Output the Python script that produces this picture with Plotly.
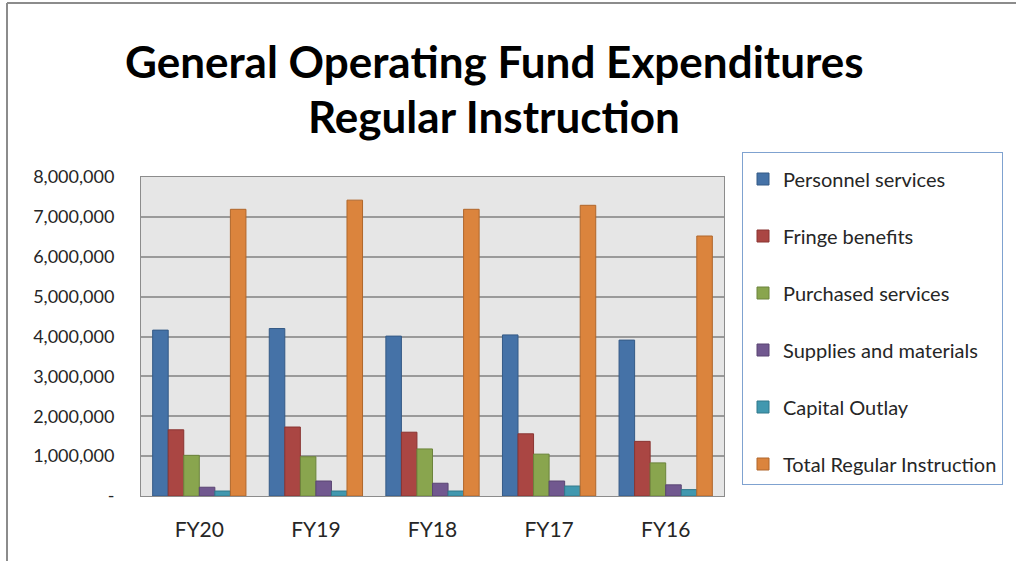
import plotly.graph_objects as go

# fiscal years, left to right
years = ["FY20", "FY19", "FY18", "FY17", "FY16"]

personnel = [4160000, 4200000, 4010000, 4040000, 3910000]
fringe = [1660000, 1730000, 1600000, 1560000, 1370000]
purchased = [1020000, 985000, 1180000, 1050000, 830000]
supplies = [220000, 376000, 320000, 376000, 280000]
capital = [125000, 125000, 125000, 250000, 160000]
total = [7190000, 7420000, 7190000, 7290000, 6520000]

y_tickvals = [0, 1000000, 2000000, 3000000, 4000000, 5000000, 6000000, 7000000, 8000000]
y_ticktext = ["-", "1,000,000", "2,000,000", "3,000,000", "4,000,000",
              "5,000,000", "6,000,000", "7,000,000", "8,000,000"]

series = [
    ("Personnel services", personnel, "#4572A7", "#355a86"),
    ("Fringe benefits", fringe, "#AA4643", "#8a3532"),
    ("Purchased services", purchased, "#89A54E", "#6c843c"),
    ("Supplies and materials", supplies, "#71588F", "#5a4573"),
    ("Capital Outlay", capital, "#4198AF", "#31788b"),
    ("Total Regular Instruction", total, "#DB843D", "#b0672c"),
]

W, H = 1016, 561
L, R, T, B = 141, 292, 177, 65
pw = W - L - R
ph = H - T - B


def px_x(x):
    """Container pixel x -> plot-area paper fraction."""
    return (x - L) / pw


def px_y(y):
    """Container pixel y (from top) -> plot-area paper fraction."""
    return 1 - (y - T) / ph


fig = go.Figure()
for name, vals, color, edge in series:
    fig.add_trace(go.Bar(
        x=years,
        y=vals,
        name=name,
        legendgroup=name,
        marker=dict(color=color, line=dict(color=edge, width=1)),
        hovertemplate="<b>%{x}</b><br>" + name + ": %{y:,.0f}<extra></extra>",
    ))

fig.update_layout(
    width=W,
    height=H,
    barmode="group",
    bargap=0.2,
    bargroupgap=0,
    paper_bgcolor="white",
    plot_bgcolor="#e6e6e6",
    margin=dict(l=L, r=R, t=T, b=B),
    font=dict(family="Lato, 'Open Sans', sans-serif", size=16, color="#262626"),
    showlegend=True,
    legend=dict(
        xref="container",
        yref="container",
        x=742 / W,
        y=1 - 152 / H,
        xanchor="left",
        yanchor="top",
        bordercolor="#7fa2d0",
        borderwidth=1,
        bgcolor="white",
        font=dict(size=20, color="#262626"),
        title=dict(text=" ", font=dict(size=5)),
        tracegroupgap=28,
        itemwidth=30,
        maxheight=420,
    ),
)

fig.add_annotation(text="<b>General Operating Fund Expenditures</b>", xref="paper", yref="paper",
                   x=px_x(494), y=px_y(61), xanchor="center", yanchor="middle", showarrow=False,
                   font=dict(size=44, color="black"))
fig.add_annotation(text="<b>Regular Instruction</b>", xref="paper", yref="paper",
                   x=px_x(494), y=px_y(116), xanchor="center", yanchor="middle", showarrow=False,
                   font=dict(size=44, color="black"))

# outer chart frame (only top and left edges visible)
fig.add_shape(type="line", xref="paper", yref="paper",
              x0=px_x(7), x1=px_x(7), y0=px_y(H), y1=px_y(3),
              line=dict(color="#8c8c8c", width=2))
fig.add_shape(type="line", xref="paper", yref="paper",
              x0=px_x(7), x1=px_x(W), y0=px_y(3), y1=px_y(3),
              line=dict(color="#8c8c8c", width=2))

fig.update_xaxes(
    showgrid=False,
    showline=True,
    linecolor="#8c8c8c",
    linewidth=1,
    mirror=True,
    ticks="",
    ticklabelstandoff=15,
    tickfont=dict(size=21, color="#262626"),
)
fig.update_yaxes(
    range=[0, 8000000],
    tickvals=y_tickvals,
    ticktext=y_ticktext,
    showgrid=True,
    gridcolor="#9a9a9a",
    gridwidth=1.5,
    showline=True,
    linecolor="#8c8c8c",
    mirror=True,
    zeroline=False,
    ticks="",
    ticklabelstandoff=22,
    tickfont=dict(size=18, color="#262626"),
)

fig.write_html("out.html", config={"displayModeBar": False},
               post_script="document.body.style.margin='0';")
